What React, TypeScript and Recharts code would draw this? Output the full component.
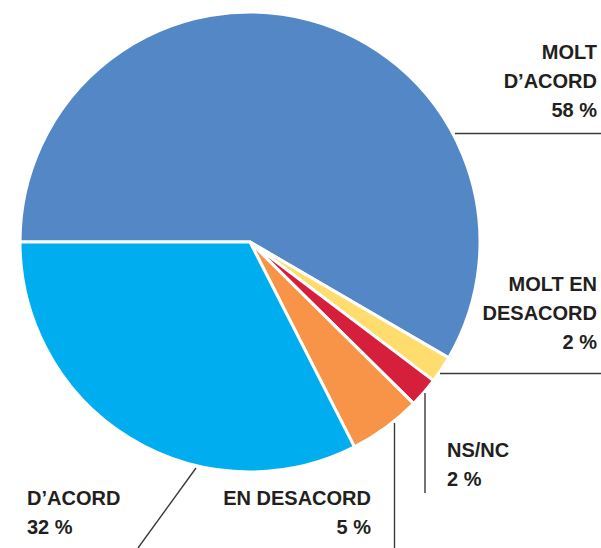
import { PieChart, Pie, Cell } from 'recharts';

const categories = ['MOLT D’ACORD', 'MOLT EN DESACORD', 'NS/NC', 'EN DESACORD', 'D’ACORD'];
const shares = [58.4, 1.9, 2.1, 5.1, 32.5];
const shownPercents = ['58 %', '2 %', '2 %', '5 %', '32 %'];
const colors = ['#5487c6', '#ffdc6e', '#d51f3b', '#f79448', '#00aeef'];

const data = categories.map((name, i) => ({ name, value: shares[i] }));

// label placement for each slice (leader line + text block)
const labelLayout = [
  { lines: ['MOLT', 'D’ACORD'], x: 597, y: 59, anchor: 'end', line: [455, 133.5, 601, 133.5] },
  { lines: ['MOLT EN', 'DESACORD'], x: 597, y: 291, anchor: 'end', line: [440, 373.5, 601, 373.5] },
  { lines: ['NS/NC'], x: 447, y: 457, anchor: 'start', line: [425, 393, 425, 493] },
  { lines: ['EN DESACORD'], x: 371, y: 505, anchor: 'end', line: [394.5, 423, 394.5, 548] },
  { lines: ['D’ACORD'], x: 27, y: 505, anchor: 'start', line: [196, 468, 138, 548] }
];

const LINE_GAP = 29;

function renderLabel(props: any) {
  const i = props.index;
  const l = labelLayout[i];
  if (!l) return null;
  const rows = [...l.lines, shownPercents[i]];
  return (
    <g key={`lbl-${i}`}>
      <line
        x1={l.line[0]}
        y1={l.line[1]}
        x2={l.line[2]}
        y2={l.line[3]}
        stroke="#3a3a3a"
        strokeWidth={1.4}
      />
      {rows.map((r, j) => (
        <text
          key={j}
          x={l.x}
          y={l.y + j * LINE_GAP}
          textAnchor={l.anchor as any}
          fill="#231f20"
          fontSize={20}
          fontWeight="bold"
          fontFamily="'Liberation Sans', Arial, Helvetica, sans-serif"
        >
          {r}
        </text>
      ))}
    </g>
  );
}

export default function App() {
  return (
    <div style={{ position: 'absolute', left: 0, top: 0, width: 601, height: 548, background: '#fff' }}>
      <PieChart width={601} height={548} margin={{ top: 0, right: 0, bottom: 0, left: 0 }}>
        <Pie
          data={data}
          dataKey="value"
          nameKey="name"
          cx={250}
          cy={242}
          outerRadius={230}
          startAngle={180}
          endAngle={-180}
          stroke="#ffffff"
          strokeWidth={3}
          label={renderLabel}
          labelLine={false}
          isAnimationActive={false}
        >
          {data.map((d, i) => (
            <Cell key={d.name} fill={colors[i]} />
          ))}
        </Pie>
      </PieChart>
    </div>
  );
}
